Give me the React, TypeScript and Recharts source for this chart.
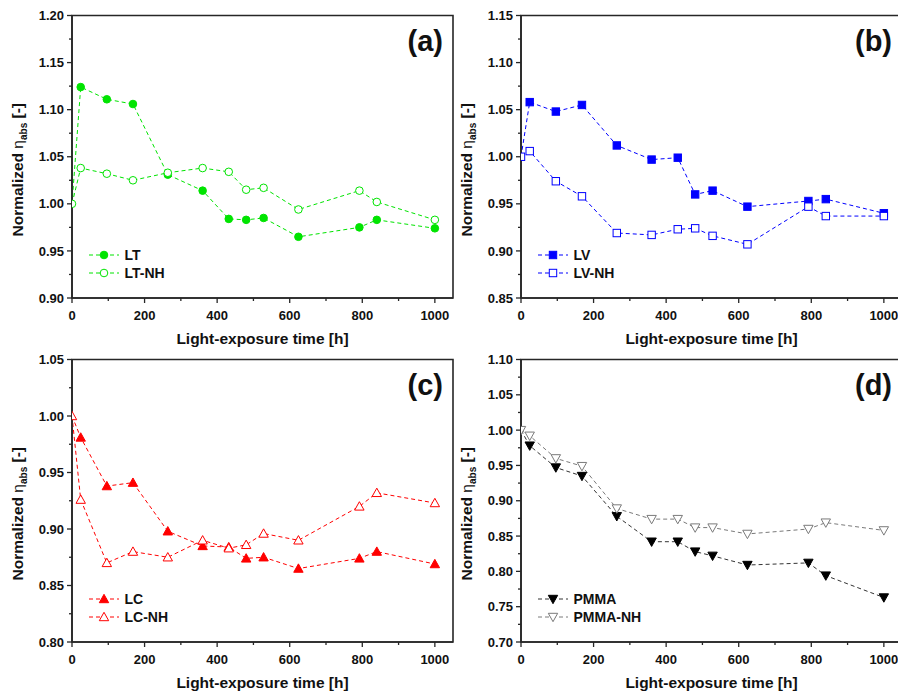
import React from 'react';
import { LineChart, Line, XAxis, YAxis, ReferenceArea, Legend } from 'recharts';

// ---- data ----
const times = [0, 24, 96, 168, 264, 360, 432, 480, 528, 624, 792, 840, 1000];

const LT = [1.0, 1.124, 1.111, 1.106, 1.031, 1.014, 0.984, 0.983, 0.985, 0.965, 0.975, 0.983, 0.974];
const LT_NH = [1.0, 1.038, 1.032, 1.025, 1.033, 1.038, 1.034, 1.015, 1.017, 0.994, 1.014, 1.002, 0.983];
const LV = [1.0, 1.058, 1.048, 1.055, 1.012, 0.997, 0.999, 0.96, 0.964, 0.947, 0.953, 0.955, 0.94];
const LV_NH = [1.0, 1.006, 0.974, 0.958, 0.919, 0.917, 0.923, 0.924, 0.916, 0.907, 0.947, 0.937, 0.937];
const LC = [1.0, 0.981, 0.938, 0.941, 0.898, 0.885, 0.884, 0.874, 0.875, 0.865, 0.874, 0.88, 0.869];
const LC_NH = [1.0, 0.926, 0.87, 0.88, 0.875, 0.89, 0.883, 0.886, 0.896, 0.89, 0.92, 0.932, 0.923];
const PMMA = [1.0, 0.978, 0.947, 0.935, 0.878, 0.842, 0.842, 0.828, 0.822, 0.809, 0.812, 0.794, 0.763];
const PMMA_NH = [1.0, 0.992, 0.96, 0.949, 0.889, 0.874, 0.874, 0.862, 0.862, 0.853, 0.86, 0.869, 0.858];

const xTicks = [0, 100, 200, 300, 400, 500, 600, 700, 800, 900, 1000];
const yTicksA = [0.9, 0.925, 0.95, 0.975, 1.0, 1.025, 1.05, 1.075, 1.1, 1.125, 1.15, 1.175, 1.2];
const yTicksB = [0.85, 0.875, 0.9, 0.925, 0.95, 0.975, 1.0, 1.025, 1.05, 1.075, 1.1, 1.125, 1.15];
const yTicksC = [0.8, 0.825, 0.85, 0.875, 0.9, 0.925, 0.95, 0.975, 1.0, 1.025, 1.05];
const yTicksD = [0.7, 0.725, 0.75, 0.775, 0.8, 0.825, 0.85, 0.875, 0.9, 0.925, 0.95, 0.975, 1.0, 1.025, 1.05, 1.075, 1.1];

const xTitle = 'Light-exposure time [h]';

// ---- styles ----
const FONT = '"Liberation Sans", Arial, Helvetica, sans-serif';
const AXIS = '#262626';
const TXT = '#111';

type Shape = 'circle' | 'square' | 'up' | 'down';
type SeriesCfg = {
  key: string;
  name: string;
  values: number[];
  color: string;
  lineColor: string;
  shape: Shape;
  filled: boolean;
};
type PanelCfg = {
  id: string;
  tag: string;
  yDomain: [number, number];
  yTicks: number[];
  series: SeriesCfg[];
  left: number;
  top: number;
};

const GREEN = '#00e400';
const BLUE = '#0000ff';
const RED = '#ff0000';

const panels: PanelCfg[] = [
  {
    id: 'a', tag: '(a)', yDomain: [0.9, 1.2], yTicks: yTicksA, left: 0, top: 0,
    series: [
      { key: 's1', name: 'LT', values: LT, color: GREEN, lineColor: GREEN, shape: 'circle', filled: true },
      { key: 's2', name: 'LT-NH', values: LT_NH, color: GREEN, lineColor: GREEN, shape: 'circle', filled: false },
    ],
  },
  {
    id: 'b', tag: '(b)', yDomain: [0.85, 1.15], yTicks: yTicksB, left: 449, top: 0,
    series: [
      { key: 's1', name: 'LV', values: LV, color: BLUE, lineColor: BLUE, shape: 'square', filled: true },
      { key: 's2', name: 'LV-NH', values: LV_NH, color: BLUE, lineColor: BLUE, shape: 'square', filled: false },
    ],
  },
  {
    id: 'c', tag: '(c)', yDomain: [0.8, 1.05], yTicks: yTicksC, left: 0, top: 344,
    series: [
      { key: 's1', name: 'LC', values: LC, color: RED, lineColor: RED, shape: 'up', filled: true },
      { key: 's2', name: 'LC-NH', values: LC_NH, color: RED, lineColor: RED, shape: 'up', filled: false },
    ],
  },
  {
    id: 'd', tag: '(d)', yDomain: [0.7, 1.1], yTicks: yTicksD, left: 449, top: 344,
    series: [
      { key: 's1', name: 'PMMA', values: PMMA, color: '#000', lineColor: '#333', shape: 'down', filled: true },
      { key: 's2', name: 'PMMA-NH', values: PMMA_NH, color: '#7a7a7a', lineColor: '#7a7a7a', shape: 'down', filled: false },
    ],
  },
];

// ---- marker ----
function Marker({ cx, cy, shape, filled, color, clipId }: { cx: number; cy: number; shape: Shape; filled: boolean; color: string; clipId?: string }) {
  const fill = filled ? color : '#fff';
  const common = { fill, stroke: color, strokeWidth: 1 };
  let el: React.ReactNode = null;
  if (shape === 'circle') el = <circle cx={cx} cy={cy} r={3.8} {...common} />;
  else if (shape === 'square') el = <rect x={cx - 3.7} y={cy - 3.7} width={7.4} height={7.4} {...common} />;
  else if (shape === 'up') el = <polygon points={`${cx},${cy - 4.7} ${cx + 4.7},${cy + 3.7} ${cx - 4.7},${cy + 3.7}`} {...common} />;
  else el = <polygon points={`${cx},${cy + 4.7} ${cx + 4.7},${cy - 3.7} ${cx - 4.7},${cy - 3.7}`} {...common} />;
  if (clipId) {
    return (
      <g>
        <defs>
          <clipPath id={clipId}>
            <rect x={cx} y={cy - 10} width={12} height={20} />
          </clipPath>
        </defs>
        <g clipPath={`url(#${clipId})`}>{el}</g>
      </g>
    );
  }
  return <g>{el}</g>;
}

const makeDot = (panelId: string, s: SeriesCfg) => (props: any) => {
  const { cx, cy, index } = props;
  const k = `${panelId}-${s.key}-${index}`;
  if (cx == null || cy == null) return <g key={k} />;
  if (index === 0) {
    if (s.filled) return <g key={k} />;
    return (
      <g key={k}>
        <Marker cx={cx} cy={cy} shape={s.shape} filled={s.filled} color={s.color} clipId={`clip-${k}`} />
      </g>
    );
  }
  return (
    <g key={k}>
      <Marker cx={cx} cy={cy} shape={s.shape} filled={s.filled} color={s.color} />
    </g>
  );
};

// ---- ticks ----
const XTick = (props: any) => {
  const { x, y, payload } = props;
  const v = payload.value as number;
  const major = v % 200 === 0;
  return (
    <g>
      <line x1={x} x2={x} y1={y} y2={y + (major ? 5 : 3)} stroke={AXIS} strokeWidth={1.3} />
      {major && (
        <text x={x} y={y + 22} textAnchor="middle" fontFamily={FONT} fontWeight="bold" fontSize={13} fill={TXT}>
          {v}
        </text>
      )}
    </g>
  );
};

const YTick = (props: any) => {
  const { x, y, payload } = props;
  const v = payload.value as number;
  const major = Math.abs(Math.round(v * 20) - v * 20) < 1e-6;
  return (
    <g>
      <line x1={x - (major ? 5 : 3)} x2={x} y1={y} y2={y} stroke={AXIS} strokeWidth={1.3} />
      {major && (
        <text x={x - 8} y={y + 4.6} textAnchor="end" fontFamily={FONT} fontWeight="bold" fontSize={13} fill={TXT}>
          {v.toFixed(2)}
        </text>
      )}
    </g>
  );
};

const XTitle = (p: any) => {
  const vb = p.viewBox || { x: 72, y: 298, width: 381, height: 40 };
  return (
    <text x={vb.x + vb.width / 2} y={vb.y + 46} textAnchor="middle" fontFamily={FONT} fontWeight="bold" fontSize={15.5} fill={TXT}>
      {xTitle}
    </text>
  );
};

const YTitle = (p: any) => {
  const vb = p.viewBox || { x: 0, y: 15.5, width: 72, height: 282.5 };
  const cx = vb.x + 23;
  const cy = vb.y + vb.height / 2 + 13;
  return (
    <text transform={`translate(${cx},${cy}) rotate(-90)`} textAnchor="middle" fontFamily={FONT} fontWeight="bold" fontSize={15.5} fill={TXT}>
      {'Normalized '}
      <tspan fontWeight="normal">η</tspan>
      <tspan fontSize={10} dy={4}>abs</tspan>
      <tspan dy={-4}>{' [-]'}</tspan>
    </text>
  );
};

const LegendBox = ({ series }: { series: SeriesCfg[] }) => (
  <svg width={140} height={40} style={{ display: 'block', overflow: 'visible' }}>
    {series.map((s, i) => {
      const y = 9 + i * 18;
      return (
        <g key={s.key}>
          <line x1={2} x2={32} y1={y} y2={y} stroke={s.lineColor} strokeWidth={1} strokeDasharray="4 3" />
          <Marker cx={17} cy={y} shape={s.shape} filled={s.filled} color={s.color} />
          <text x={37.5} y={y + 5} fontFamily={FONT} fontWeight="bold" fontSize={14} fill={TXT}>
            {s.name}
          </text>
        </g>
      );
    })}
  </svg>
);

function Panel({ cfg }: { cfg: PanelCfg }) {
  const data = times.map((t, i) => {
    const o: any = { t };
    cfg.series.forEach((s) => {
      o[s.key] = s.values[i];
    });
    return o;
  });
  return (
    <div style={{ position: 'absolute', left: cfg.left, top: cfg.top }}>
      <LineChart width={460} height={362} data={data} margin={{ top: 15.5, right: 7, bottom: 24, left: 0 }}>
        <XAxis
          dataKey="t"
          type="number"
          domain={[0, 1050]}
          ticks={xTicks}
          interval={0}
          tickSize={0}
          tickMargin={0}
          tickLine={false}
          axisLine={{ stroke: AXIS, strokeWidth: 1.6 }}
          tick={XTick}
          height={40}
          label={{ content: XTitle }}
        />
        <YAxis
          type="number"
          domain={cfg.yDomain}
          ticks={cfg.yTicks}
          interval={0}
          tickSize={0}
          tickMargin={0}
          tickLine={false}
          axisLine={{ stroke: AXIS, strokeWidth: 1.6 }}
          tick={YTick}
          width={72}
          label={{ content: YTitle }}
        />
        <ReferenceArea
          x1={0}
          x2={1050}
          y1={cfg.yDomain[0]}
          y2={cfg.yDomain[1]}
          fill="none"
          fillOpacity={0}
          stroke={AXIS}
          strokeWidth={1.6}
          label={{
            content: (p: any) => {
              const vb = p.viewBox || { x: 72, y: 15.5, width: 381, height: 282.5 };
              return (
                <text x={vb.x + vb.width - 10} y={vb.y + 35} textAnchor="end" fontFamily={FONT} fontWeight="bold" fontSize={29} fill={TXT}>
                  {cfg.tag}
                </text>
              );
            },
          }}
        />
        {cfg.series.map((s) => (
          <Line
            key={s.key}
            dataKey={s.key}
            name={s.name}
            type="linear"
            stroke={s.lineColor}
            strokeWidth={1}
            strokeDasharray="4 3"
            dot={makeDot(cfg.id, s)}
            activeDot={false}
            isAnimationActive={false}
          />
        ))}
        <Legend
          layout="vertical"
          align="center"
          verticalAlign="middle"
          wrapperStyle={{ left: 87, top: 246, width: 140, height: 40 }}
          content={() => <LegendBox series={cfg.series} />}
        />
      </LineChart>
    </div>
  );
}

export default function App() {
  return (
    <div style={{ position: 'absolute', left: 0, top: 0, width: 898, height: 692, overflow: 'hidden', background: '#fff' }}>
      {panels.map((p) => (
        <Panel key={p.id} cfg={p} />
      ))}
    </div>
  );
}
